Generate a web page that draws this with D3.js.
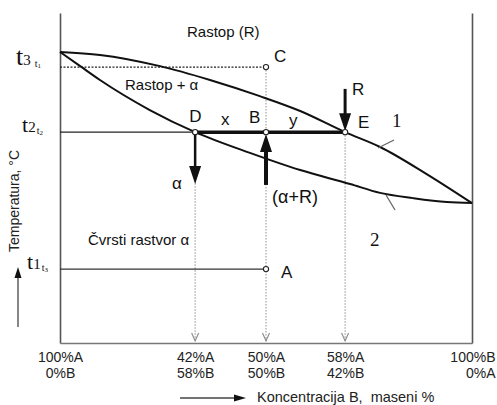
<!DOCTYPE html>
<html>
<head>
<meta charset="utf-8">
<script src="https://cdn.jsdelivr.net/npm/d3@7"></script>
<style>
  body { margin: 0; background: #fff; }
  svg { display: block; }
  .sans { font-family: "Liberation Sans", Arial, sans-serif; }
  .serif { font-family: "Liberation Serif", "Times New Roman", serif; }
</style>
</head>
<body>
<div id="chart"></div>
<script>
// concentration of B along the axis (position %), temperature in arbitrary units
var liquidus = [[0, 88.2], [9.7, 87.3], [24.3, 83.9], [36.4, 79.7], [48.5, 74.8], [58.3, 70.3],
  [69.2, 63.9], [77.7, 59.4], [88.6, 51.5], [100, 42.4]];
var solidus = [[0, 88.2], [4.9, 83.9], [9.7, 79.7], [21.8, 70.6], [32.8, 63.9], [46.1, 57.6],
  [58.3, 52.4], [70.4, 48.2], [77.7, 45.5], [85.7, 43.9], [93.9, 42.7], [100, 42.4]];

var concTicks = [0, 32.8, 50, 69.2, 100];
var tickLabelsTop = ["100%A", "42%A", "50%A", "58%A", "100%B"];
var tickLabelsBottom = ["0%B", "58%B", "50%B", "42%B", "0%A"];

var tempLevels = [83.6, 63.9, 22.4];
var tempDigits = ["3", "2", "1"];
var tempSubs = ["1", "2", "3"];

var pointNames = ["C", "B", "A", "D", "E"];
var pointConc = [50, 50, 50, 32.8, 69.2];
var pointTemp = [83.6, 63.9, 22.4, 63.9, 63.9];

var svgWidth = 497;
var svgHeight = 405;
var margin = { top: 13, right: 25, bottom: 62, left: 60 };
var width = svgWidth - margin.left - margin.right;
var height = svgHeight - margin.top - margin.bottom;

var svg = d3.select("#chart")
  .append("svg")
  .attr("width", svgWidth)
  .attr("height", svgHeight);

var chartGroup = svg.append("g")
  .attr("transform", `translate(${margin.left}, ${margin.top})`);

var xScale = d3.scaleLinear().domain([0, 100]).range([0, width]);
var yScale = d3.scaleLinear().domain([0, 100]).range([height, 0]);

// frame: left, right and bottom axes without ticks
chartGroup.append("g")
  .call(d3.axisLeft(yScale).tickValues([]).tickSizeOuter(0))
  .select(".domain").attr("stroke", "#555").attr("stroke-width", 1.6);
chartGroup.append("g")
  .attr("transform", `translate(${width}, 0)`)
  .call(d3.axisRight(yScale).tickValues([]).tickSizeOuter(0))
  .select(".domain").attr("stroke", "#555").attr("stroke-width", 1.6);

var xAxis = chartGroup.append("g")
  .attr("transform", `translate(0, ${height})`)
  .call(d3.axisBottom(xScale).tickValues(concTicks).tickSize(0).tickSizeOuter(0).tickFormat(""));
xAxis.select(".domain").attr("stroke", "#777").attr("stroke-width", 1.4);

xAxis.selectAll(".tick").each(function(d, i) {
  var last = i === concTicks.length - 1;
  var t = d3.select(this).append("text")
    .attr("class", "sans")
    .attr("fill", "#222")
    .style("font-size", "14px")
    .attr("text-anchor", last ? "end" : "middle");
  t.append("tspan").attr("x", last ? 23 : 0).attr("y", 19).text(tickLabelsTop[i]);
  t.append("tspan").attr("x", last ? 23 : 0).attr("y", 35).text(tickLabelsBottom[i]);
});

// dotted verticals from D, C and E down to the axis, with open heads
var dropSrc = [3, 0, 4];
dropSrc.forEach(function(k) {
  var px = xScale(pointConc[k]);
  chartGroup.append("line")
    .attr("x1", px).attr("x2", px)
    .attr("y1", yScale(pointTemp[k])).attr("y2", height - 2)
    .attr("stroke", "#999").attr("stroke-width", 1.1)
    .attr("stroke-dasharray", "1.5,1.5");
  chartGroup.append("polyline")
    .attr("points", `${px - 3.5},${height - 10} ${px},${height - 2} ${px + 3.5},${height - 10}`)
    .attr("fill", "none").attr("stroke", "#888").attr("stroke-width", 1.1);
});

// horizontal temperature lines
chartGroup.append("line")
  .attr("x1", 0).attr("x2", xScale(pointConc[0]))
  .attr("y1", yScale(tempLevels[0])).attr("y2", yScale(tempLevels[0]))
  .attr("stroke", "#222").attr("stroke-width", 1.1).attr("stroke-dasharray", "2,1.5");
chartGroup.append("line")
  .attr("x1", 0).attr("x2", xScale(pointConc[3]))
  .attr("y1", yScale(tempLevels[1])).attr("y2", yScale(tempLevels[1]))
  .attr("stroke", "#222").attr("stroke-width", 1.2);
chartGroup.append("line")
  .attr("x1", xScale(pointConc[3])).attr("x2", xScale(pointConc[4]))
  .attr("y1", yScale(tempLevels[1])).attr("y2", yScale(tempLevels[1]))
  .attr("stroke", "#111").attr("stroke-width", 3.5);
chartGroup.append("line")
  .attr("x1", 0).attr("x2", xScale(pointConc[2]))
  .attr("y1", yScale(tempLevels[2])).attr("y2", yScale(tempLevels[2]))
  .attr("stroke", "#333").attr("stroke-width", 1.2);

// liquidus and solidus
var line = d3.line()
  .x(d => xScale(d[0]))
  .y(d => yScale(d[1]))
  .curve(d3.curveMonotoneX);

[liquidus, solidus].forEach(function(curve) {
  chartGroup.append("path")
    .datum(curve)
    .attr("d", line)
    .attr("fill", "none")
    .attr("stroke", "#111")
    .attr("stroke-width", 2);
});

// arrows
function arrow(conc, fromT, toT, shaft, headW, headL) {
  var px = xScale(conc);
  var y0 = yScale(fromT), y1 = yScale(toT);
  var dir = y1 > y0 ? 1 : -1;
  chartGroup.append("line")
    .attr("x1", px).attr("x2", px)
    .attr("y1", y0).attr("y2", y1 - dir * headL * 0.8)
    .attr("stroke", "#111").attr("stroke-width", shaft);
  chartGroup.append("polygon")
    .attr("points", `${px - headW / 2},${y1 - dir * headL} ${px},${y1} ${px + headW / 2},${y1 - dir * headL}`)
    .attr("fill", "#111");
}
arrow(pointConc[3], pointTemp[3], 48.2, 2.5, 12, 18);
arrow(pointConc[1], 47.9, pointTemp[1] - 0.6, 4, 12, 18);
arrow(pointConc[4], 77, pointTemp[4] + 0.3, 3, 12, 18);

// point circles
chartGroup.selectAll("circle.pt")
  .data(pointNames)
  .enter()
  .append("circle")
  .attr("class", "pt")
  .attr("cx", (d, i) => xScale(pointConc[i]))
  .attr("cy", (d, i) => yScale(pointTemp[i]))
  .attr("r", 2.6)
  .attr("fill", "#fff")
  .attr("stroke", "#222")
  .attr("stroke-width", 1.1);

// point letters
var letterDx = [8, -17, 15, -6, 13];
var letterDy = [-5, -9, 9, -10, -4];
chartGroup.selectAll("text.pt")
  .data(pointNames)
  .enter()
  .append("text")
  .attr("class", "sans pt")
  .attr("x", (d, i) => xScale(pointConc[i]) + letterDx[i])
  .attr("y", (d, i) => yScale(pointTemp[i]) + letterDy[i])
  .style("font-size", "17px")
  .attr("fill", "#111")
  .text(d => d);

function label(txt, x, y, size, cls, anchor) {
  return chartGroup.append("text")
    .attr("class", cls || "sans")
    .attr("x", x).attr("y", y)
    .attr("text-anchor", anchor || "start")
    .style("font-size", size + "px")
    .attr("fill", "#111")
    .text(txt);
}

var t2y = yScale(tempLevels[1]);
label("Rastop (R)", 127, 24, 15);
label("Rastop + α", 65, 77, 15);
label("x", 161, t2y - 7, 17);
label("y", 229, t2y - 6, 17);
label("R", xScale(pointConc[4]) + 7, 82, 17);
label("α", 112, 176, 17);
label("(α+R)", 212, 190, 18);
label("Čvrsti rastvor α", 28, 232, 15);
label("1", 332, 114, 19, "serif");
label("2", 310, 233, 19, "serif");

// leader ticks for curve numbers
chartGroup.append("line").attr("x1", 318).attr("y1", 135).attr("x2", 334).attr("y2", 127)
  .attr("stroke", "#666").attr("stroke-width", 1.3);
chartGroup.append("line").attr("x1", 326).attr("y1", 182).attr("x2", 335).attr("y2", 197)
  .attr("stroke", "#666").attr("stroke-width", 1.3);

// temperature level labels: t + digit + small subscript t
tempLevels.forEach(function(t, i) {
  var base = yScale(t) + (i === 0 ? -2 : 0);
  var lx = i === 2 ? -33 : (i === 1 ? -38 : -44);
  var big = i === 0 ? 26 : 22;
  var g = chartGroup.append("text")
    .attr("class", "serif")
    .attr("x", lx).attr("y", base)
    .attr("fill", "#111");
  g.append("tspan").style("font-size", big + "px").text("t");
  g.append("tspan").style("font-size", "15px").text(tempDigits[i]);
  g.append("tspan").attr("dx", i === 0 ? 4 : 1).attr("dy", 2).style("font-size", "10px").text("t");
  g.append("tspan").attr("dy", 1).style("font-size", "7px").text(tempSubs[i]);
});

// axis titles with arrows
svg.append("text")
  .attr("class", "sans")
  .attr("transform", "translate(19, 201) rotate(-90)")
  .attr("text-anchor", "middle")
  .style("font-size", "14px")
  .attr("fill", "#222")
  .text("Temperatura, °C");

svg.append("line").attr("x1", 18).attr("x2", 18).attr("y1", 327).attr("y2", 276)
  .attr("stroke", "#444").attr("stroke-width", 1.3);
svg.append("polygon").attr("points", "14.5,278 18,267 21.5,278").attr("fill", "#111");

svg.append("line").attr("x1", 180).attr("x2", 236).attr("y1", 398).attr("y2", 398)
  .attr("stroke", "#444").attr("stroke-width", 1.3);
svg.append("polygon").attr("points", "234,394.5 246,398 234,401.5").attr("fill", "#111");

svg.append("text")
  .attr("class", "sans")
  .attr("x", 257).attr("y", 402)
  .style("font-size", "14.5px")
  .attr("fill", "#222")
  .attr("xml:space", "preserve")
  .text("Koncentracija B,  maseni %");
</script>
</body>
</html>
